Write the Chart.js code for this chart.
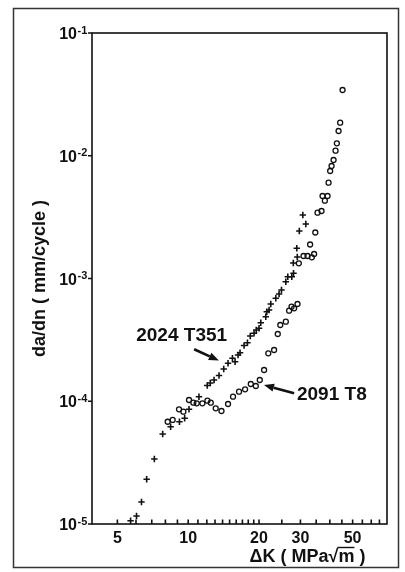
<!DOCTYPE html>
<html lang="en">

<head>
  <meta charset="UTF-8">
  <title>da/dn x ΔK</title>
  <style>
    html, body { margin: 0; padding: 0; background: #fff; }
    .grafico { position: relative; width: 405px; height: 572px; }
  </style>
</head>

<body>
  <div class="grafico">
    <canvas id="chart_dadn"></canvas>
  </div>

  <script src="https://cdn.jsdelivr.net/npm/chart.js"></script>
  <script>
    // valores: ΔK (MPa√m) e da/dn (mm/cycle)
    const deltaK2024 = [5.69, 6.03, 6.33, 6.66, 7.18, 7.79, 8.42, 9.18, 9.66, 10.08, 11.11, 12.05, 12.41, 12.88, 13.52,
      14.16, 14.77, 15.42, 15.82, 16.29, 16.61, 17.28, 17.86, 18.36, 19.05, 19.47, 20.01, 20.35, 21.37, 21.58, 22.07,
      22.44, 23.57, 24.34, 24.92, 26.0, 26.51, 27.57, 28.04, 27.98, 29.09, 28.95, 29.67, 31.62, 30.71];
    const dadn2024 = [1.064e-5, 1.162e-5, 1.511e-5, 2.313e-5, 3.385e-5, 5.41e-5, 6.20e-5, 6.81e-5, 7.26e-5, 8.60e-5,
      1.089e-4, 1.343e-4, 1.408e-4, 1.490e-4, 1.621e-4, 1.831e-4, 2.038e-4, 2.239e-4, 2.10e-4, 2.381e-4, 2.486e-4,
      2.846e-4, 2.999e-4, 3.40e-4, 3.578e-4, 3.806e-4, 3.93e-4, 4.363e-4, 4.885e-4, 5.365e-4, 5.539e-4, 6.20e-4,
      6.90e-4, 7.48e-4, 8.06e-4, 9.42e-4, 1.034e-3, 1.034e-3, 1.102e-3, 1.337e-3, 1.496e-3, 1.762e-3, 2.438e-3,
      2.78e-3, 3.292e-3];

    const deltaK2091 = [8.18, 8.59, 9.14, 9.54, 10.08, 10.52, 10.87, 11.49, 12.07, 12.47, 13.09, 13.85, 14.77, 15.51,
      16.45, 17.45, 18.45, 19.38, 20.15, 21.02, 21.90, 23.18, 24.03, 24.63, 26.0, 26.85, 27.49, 28.20, 29.15, 29.53,
      30.92, 32.16, 33.54, 34.30, 32.98, 34.70, 35.46, 36.88, 37.25, 39.12, 38.10, 39.51, 40.13, 40.69, 41.49, 42.31,
      42.85, 43.57, 44.26, 45.31];
    const dadn2091 = [6.81e-5, 7.04e-5, 8.60e-5, 8.22e-5, 1.024e-4, 9.73e-5, 9.62e-5, 9.62e-5, 1.010e-4, 9.73e-5,
      8.76e-5, 8.33e-5, 9.50e-5, 1.089e-4, 1.196e-4, 1.251e-4, 1.382e-4, 1.331e-4, 1.490e-4, 1.797e-4, 2.459e-4,
      2.616e-4, 3.53e-4, 4.18e-4, 4.446e-4, 5.466e-4, 5.893e-4, 5.718e-4, 6.20e-4, 1.329e-3, 1.525e-3, 1.525e-3,
      1.488e-3, 1.584e-3, 1.892e-3, 2.37e-3, 3.436e-3, 3.548e-3, 4.70e-3, 4.70e-3, 4.303e-3, 6.03e-3, 7.51e-3,
      8.25e-3, 9.23e-3, 1.099e-2, 1.263e-2, 1.591e-2, 1.859e-2, 3.432e-2];

    const xTicks = [5, 6, 7, 8, 9, 10, 11, 12, 13, 14, 15, 16, 17, 18, 19, 20, 25, 30, 35, 40, 45, 50, 55, 60, 65];
    const xTickLabels = [5, 10, 20, 30, 50];
    const yTicks = [1e-1, 1e-2, 1e-3, 1e-4, 1e-5];
    const yTickLabels = ['-1', '-2', '-3', '-4', '-5'];
    const serieNomes = ['2024 T351', '2091 T8'];

    const fonte = '"Liberation Sans", Arial, Helvetica, sans-serif';
    Chart.defaults.font.family = fonte;
    Chart.defaults.color = '#111';

    // rótulos das séries com setas (em unidades do gráfico)
    const anotacoes = [
      { texto: serieNomes[0], pos: [9.38, 3.40e-4], de: [10.6, 2.65e-4], para: [13.5, 2.15e-4] },
      { texto: serieNomes[1], pos: [40.8, 1.125e-4], de: [28.2, 1.16e-4], para: [21.0, 1.356e-4] }
    ];

    function desenharSeta(ctx, x0, y0, x1, y1) {
      const ang = Math.atan2(y1 - y0, x1 - x0);
      const L = 10, W = 4;
      const bx = x1 - L * Math.cos(ang), by = y1 - L * Math.sin(ang);
      ctx.lineWidth = 2.6;
      ctx.beginPath();
      ctx.moveTo(x0, y0);
      ctx.lineTo(bx, by);
      ctx.stroke();
      ctx.beginPath();
      ctx.moveTo(x1, y1);
      ctx.lineTo(bx + W * Math.sin(ang), by - W * Math.cos(ang));
      ctx.lineTo(bx - W * Math.sin(ang), by + W * Math.cos(ang));
      ctx.closePath();
      ctx.fill();
    }

    const moldura = {
      id: 'moldura',
      beforeDraw(chart) {
        const ctx = chart.ctx;
        ctx.save();
        ctx.fillStyle = '#fff';
        ctx.fillRect(0, 0, chart.width, chart.height);
        ctx.strokeStyle = '#333';
        ctx.lineWidth = 1.5;
        ctx.strokeRect(13.5, 8.5, 385, 559);
        ctx.restore();
      },
      afterDraw(chart) {
        const { ctx, chartArea: a, scales: { x, y } } = chart;
        ctx.save();
        ctx.strokeStyle = '#111';
        ctx.fillStyle = '#111';
        ctx.lineWidth = 1.6;
        ctx.strokeRect(a.left, a.top, a.right - a.left, a.bottom - a.top);

        ctx.beginPath();
        xTicks.forEach(v => {
          const px = x.getPixelForValue(v);
          ctx.moveTo(px, a.bottom);
          ctx.lineTo(px, a.bottom - 4.5);
        });
        yTicks.forEach(v => {
          const py = y.getPixelForValue(v);
          ctx.moveTo(a.left, py);
          ctx.lineTo(a.left - 4, py);
        });
        ctx.stroke();

        // rótulos 10^n do eixo y
        yTicks.forEach((v, i) => {
          const py = y.getPixelForValue(v);
          ctx.font = 'bold 16px ' + fonte;
          ctx.textAlign = 'right';
          ctx.textBaseline = 'alphabetic';
          ctx.fillText('10', a.left - 15, py + 6);
          ctx.font = 'bold 11px ' + fonte;
          ctx.textAlign = 'left';
          ctx.fillText(yTickLabels[i], a.left - 14.5, py + 0.5);
        });

        // título do eixo x
        const tx = a.right - 79.5, ty = 562;
        ctx.font = 'bold 18px ' + fonte;
        ctx.textAlign = 'center';
        ctx.textBaseline = 'alphabetic';
        const titulo = 'ΔK ( MPa√m )';
        ctx.fillText(titulo, tx, ty);
        const w = ctx.measureText(titulo).width;
        const inicio = tx - w / 2 + ctx.measureText('ΔK ( MPa√').width;
        const wm = ctx.measureText('m').width;
        ctx.lineWidth = 1.4;
        ctx.beginPath();
        ctx.moveTo(inicio - 1, ty - 14.5);
        ctx.lineTo(inicio + wm, ty - 14.5);
        ctx.stroke();

        // nomes das séries
        anotacoes.forEach(an => {
          ctx.font = 'bold 19px ' + fonte;
          ctx.textAlign = 'center';
          ctx.textBaseline = 'middle';
          ctx.fillText(an.texto, x.getPixelForValue(an.pos[0]), y.getPixelForValue(an.pos[1]));
          desenharSeta(ctx,
            x.getPixelForValue(an.de[0]), y.getPixelForValue(an.de[1]),
            x.getPixelForValue(an.para[0]), y.getPixelForValue(an.para[1]));
        });
        ctx.restore();
      }
    };

    const ctx = document.getElementById('chart_dadn').getContext('2d');
    new Chart(ctx, {
      type: 'scatter',
      data: {
        datasets: [
          {
            label: serieNomes[0],
            data: deltaK2024.map((k, i) => ({ x: k, y: dadn2024[i] })),
            pointStyle: 'cross',
            pointRadius: 3.2,
            pointBorderWidth: 1.6,
            borderColor: '#111',
            backgroundColor: '#111'
          },
          {
            label: serieNomes[1],
            data: deltaK2091.map((k, i) => ({ x: k, y: dadn2091[i] })),
            pointStyle: 'circle',
            pointRadius: 2.5,
            pointBorderWidth: 1.3,
            borderColor: '#111',
            backgroundColor: 'rgba(255,255,255,0)'
          }
        ]
      },
      options: {
        responsive: true,
        maintainAspectRatio: false,
        animation: false,
        layout: { padding: { top: 33, right: 18, bottom: 0, left: 0 } },
        plugins: {
          legend: { display: false },
          tooltip: { enabled: false }
        },
        scales: {
          x: {
            type: 'logarithmic',
            min: 3.9,
            max: 70,
            afterBuildTicks: s => { s.ticks = xTicks.map(v => ({ value: v })); },
            afterFit: s => { s.height = 48; },
            grid: { display: false, drawTicks: false },
            border: { display: false },
            ticks: {
              autoSkip: false,
              maxRotation: 0,
              padding: 5,
              font: { size: 16, weight: 'bold' },
              callback: v => xTickLabels.includes(v) ? String(v) : ''
            }
          },
          y: {
            type: 'logarithmic',
            min: 1e-5,
            max: 1e-1,
            afterBuildTicks: s => { s.ticks = yTicks.map(v => ({ value: v })); },
            afterFit: s => { s.width = 92; },
            grid: { display: false, drawTicks: false },
            border: { display: false },
            ticks: { display: false },
            title: {
              display: true,
              text: 'da/dn ( mm/cycle )',
              font: { size: 18, weight: 'bold' },
              padding: { top: 29, bottom: 0 }
            }
          }
        }
      },
      plugins: [moldura]
    });
  </script>
</body>

</html>
